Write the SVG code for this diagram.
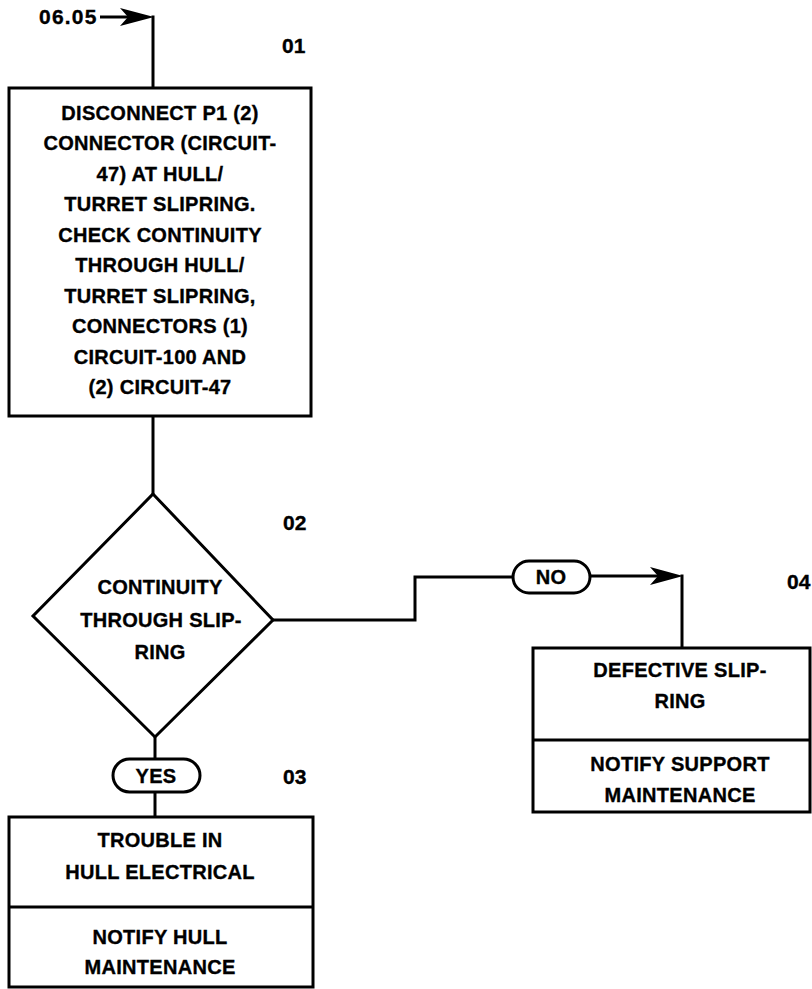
<svg xmlns="http://www.w3.org/2000/svg" width="812" height="989" viewBox="0 0 812 989">
<defs>
<style>
.ln{fill:none;stroke:#000;stroke-width:3;stroke-linejoin:miter}
.bx{fill:#fff;stroke:#000;stroke-width:3}
.ah{fill:#000;stroke:none}
.t{font-family:"Liberation Sans",Arial,sans-serif;font-weight:bold;font-size:20px;letter-spacing:0.3px;fill:#000;stroke:#000;stroke-width:0.35;text-anchor:middle;dominant-baseline:central}
.n{font-family:"Liberation Sans",Arial,sans-serif;font-weight:bold;font-size:21px;fill:#000;stroke:#000;stroke-width:0.35;dominant-baseline:central}
</style>
</defs>
<rect width="812" height="989" fill="#fff"/>
<g id="connectors">
<path class="ln" d="M100,17 H130"/>
<path class="ah" d="M120,8 L154,17 L120,26 L128,17 Z"/>
<path class="ln" d="M153,15.5 V88"/>
<path class="ln" d="M153,416 V494"/>
<path class="ln" d="M155,737 V759"/>
<path class="ln" d="M155,792 V817"/>
<path class="ln" d="M273,620 H415 V577 H513"/>
<path class="ln" d="M590,576 H660"/>
<path class="ah" d="M650,567 L683,576 L650,585 L658,576 Z"/>
<path class="ln" d="M682,574.5 V648"/>
</g>
<g id="entry">
<text class="n" x="39" y="16" letter-spacing="1.2">06.05</text>
</g>
<g id="n01">
<text class="n" x="282" y="45">01</text>
<rect class="bx" x="9" y="88" width="302" height="328"/>
<text class="t" x="160" y="113">DISCONNECT P1 (2)</text>
<text class="t" x="160" y="143">CONNECTOR (CIRCUIT-</text>
<text class="t" x="160" y="174">47) AT HULL/</text>
<text class="t" x="160" y="204">TURRET SLIPRING.</text>
<text class="t" x="160" y="235">CHECK CONTINUITY</text>
<text class="t" x="160" y="265">THROUGH HULL/</text>
<text class="t" x="160" y="296">TURRET SLIPRING,</text>
<text class="t" x="160" y="326">CONNECTORS (1)</text>
<text class="t" x="160" y="357">CIRCUIT-100 AND</text>
<text class="t" x="160" y="387">(2) CIRCUIT-47</text>
</g>
<g id="n02">
<text class="n" x="283" y="522">02</text>
<path class="bx" d="M153,494 L273,620 L155,737 L33,616 Z"/>
<text class="t" x="160" y="587">CONTINUITY</text>
<text class="t" x="161" y="620">THROUGH SLIP-</text>
<text class="t" x="160" y="652">RING</text>
</g>
<g id="yes">
<rect class="bx" x="113" y="759" width="87" height="33" rx="16.5"/>
<text class="t" x="156" y="776">YES</text>
</g>
<g id="no">
<rect class="bx" x="513" y="561" width="77" height="32" rx="16"/>
<text class="t" x="551" y="577">NO</text>
</g>
<g id="n03">
<text class="n" x="283" y="776">03</text>
<rect class="bx" x="9" y="817" width="304" height="170"/>
<line class="ln" x1="9" y1="907" x2="313" y2="907"/>
<text class="t" x="160" y="840">TROUBLE IN</text>
<text class="t" x="160" y="872">HULL ELECTRICAL</text>
<text class="t" x="160" y="937">NOTIFY HULL</text>
<text class="t" x="160" y="967">MAINTENANCE</text>
</g>
<g id="n04">
<text class="n" x="787" y="581">04</text>
<rect class="bx" x="533" y="648" width="277" height="164"/>
<line class="ln" x1="533" y1="740" x2="810" y2="740"/>
<text class="t" x="680" y="670">DEFECTIVE SLIP-</text>
<text class="t" x="680" y="701">RING</text>
<text class="t" x="680" y="764">NOTIFY SUPPORT</text>
<text class="t" x="680" y="795">MAINTENANCE</text>
</g>
</svg>
